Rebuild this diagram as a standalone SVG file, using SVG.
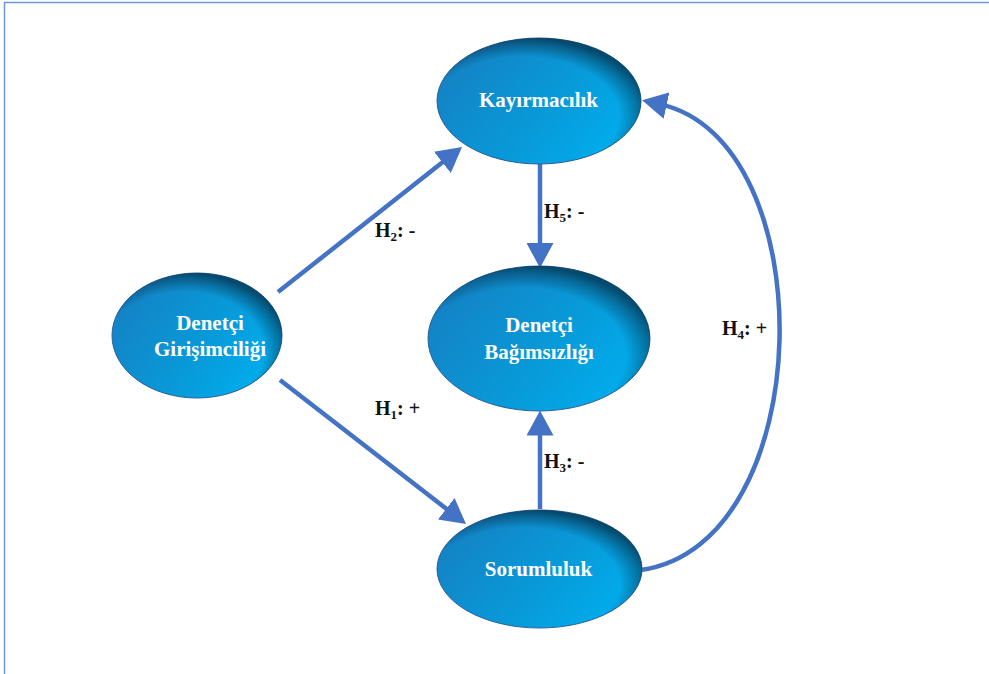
<svg xmlns="http://www.w3.org/2000/svg" width="989" height="674" viewBox="0 0 989 674">
<style>
.node-fill{fill:url(#base);stroke:#2a5f9a;stroke-width:1}
.node-shade{fill:url(#shade);stroke:none}
.ntext{font-family:"Liberation Serif","Times New Roman",serif;font-weight:bold;font-size:21px;fill:#ffffff;text-anchor:middle}
.lbl{font-family:"Liberation Serif","Times New Roman",serif;font-weight:bold;font-size:20px;fill:#111111}
.sub{font-size:13px}
.conn{fill:none;stroke:#4472C4;stroke-width:4.5;marker-end:url(#arr)}
</style>
<defs>
<linearGradient id="base" x1="0" y1="0.3" x2="1" y2="0.8">
<stop offset="0" stop-color="#1482c4"/>
<stop offset="0.55" stop-color="#089ad9"/>
<stop offset="1" stop-color="#00b0f0"/>
</linearGradient>
<radialGradient id="shade" cx="0.42" cy="0.62" r="0.62">
<stop offset="0.76" stop-color="#04304a" stop-opacity="0"/>
<stop offset="0.93" stop-color="#04304a" stop-opacity="0.5"/>
<stop offset="1" stop-color="#04304a" stop-opacity="0.75"/>
</radialGradient>
<marker id="arr" markerUnits="userSpaceOnUse" markerWidth="26" markerHeight="27" refX="7" refY="13.5" orient="auto">
<path d="M0,0 L25,13.5 L0,27 z" fill="#4472C4"/>
</marker>
</defs>
<rect x="4.5" y="2.5" width="1000" height="700" fill="#ffffff" stroke="#6f97de" stroke-width="1.5"/>
<g id="connectors">
<line class="conn" x1="278" y1="292" x2="447.9" y2="158.1"/>
<line class="conn" x1="280" y1="380" x2="451.8" y2="513"/>
<line class="conn" x1="540" y1="164" x2="540" y2="250"/>
<line class="conn" x1="540" y1="509" x2="540" y2="428.5"/>
<path class="conn" d="M641,570 C820,545 825,140 659.7,104.1"/>
</g>
<g id="labels">
<text class="lbl" x="375" y="237">H<tspan class="sub" dy="4">2</tspan><tspan dy="-4">: -</tspan></text>
<text class="lbl" x="544" y="218">H<tspan class="sub" dy="4">5</tspan><tspan dy="-4">: -</tspan></text>
<text class="lbl" x="375" y="415">H<tspan class="sub" dy="4">1</tspan><tspan dy="-4">: +</tspan></text>
<text class="lbl" x="544" y="468">H<tspan class="sub" dy="4">3</tspan><tspan dy="-4">: -</tspan></text>
<text class="lbl" x="722" y="335">H<tspan class="sub" dy="4">4</tspan><tspan dy="-4">: +</tspan></text>
</g>
<g id="kayirmacilik">
<ellipse class="node-fill" cx="539" cy="101" rx="102" ry="63"/>
<ellipse class="node-shade" cx="539" cy="101" rx="102" ry="63"/>
<text class="ntext" x="538.5" y="107">Kayırmacılık</text>
</g>
<g id="girisimcilik">
<ellipse class="node-fill" cx="197" cy="335.5" rx="85" ry="62.5"/>
<ellipse class="node-shade" cx="197" cy="335.5" rx="85" ry="62.5"/>
<text class="ntext" x="210" y="330">Denetçi</text>
<text class="ntext" x="210" y="356">Girişimciliği</text>
</g>
<g id="bagimsizlik">
<ellipse class="node-fill" cx="539" cy="338.5" rx="111" ry="72.5"/>
<ellipse class="node-shade" cx="539" cy="338.5" rx="111" ry="72.5"/>
<text class="ntext" x="539" y="332">Denetçi</text>
<text class="ntext" x="539" y="359">Bağımsızlığı</text>
</g>
<g id="sorumluluk">
<ellipse class="node-fill" cx="539.5" cy="569" rx="102.5" ry="59"/>
<ellipse class="node-shade" cx="539.5" cy="569" rx="102.5" ry="59"/>
<text class="ntext" x="538.5" y="576">Sorumluluk</text>
</g>
</svg>
